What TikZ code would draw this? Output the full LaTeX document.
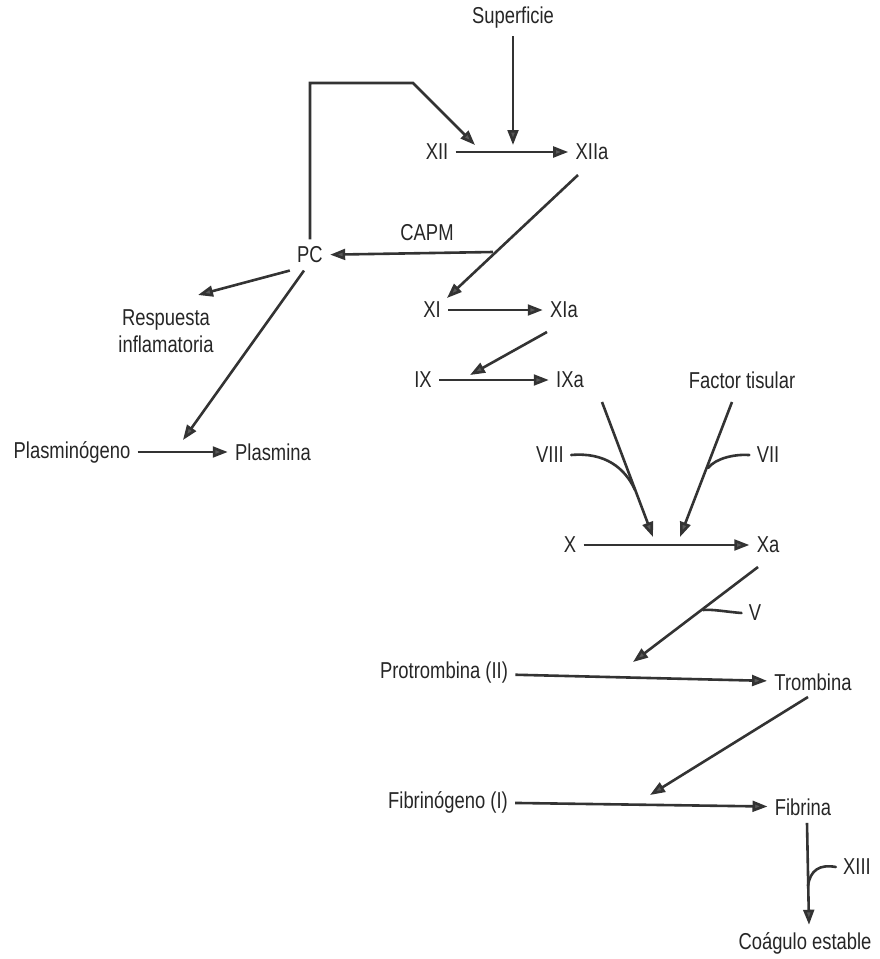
\documentclass[tikz,border=0pt]{standalone}
\usepackage{fontspec}
\setmainfont{Liberation Sans}[FakeStretch=0.8]
\usetikzlibrary{arrows.meta}

\begin{document}
\begin{tikzpicture}[
    x=0.5pt, y=-0.5pt,
    % Define the style for the factor labels
    fLabel/.style={
        font=\fontsize{11.5}{13.5}\selectfont,
        text=black!85,
        inner sep=3.5pt
    },
    % Define the style for the reaction arrows
    edgeStyle/.style={
        draw=black!80,
        line width=1.3pt,
        -{Triangle[length=7.5pt,width=5.4pt,fill=black!65]}
    },
    % Define the style for the cofactor curves (no tip)
    coStyle/.style={
        draw=black!80,
        line width=1.3pt,
        line cap=round
    }
]

    % --- PAGE FRAME ---
    \useasboundingbox (0,0) rectangle (879,959);

    % --- NODES ---
    % Intrinsic pathway
    \node[fLabel] (Sup)  at (513,18)  {Superficie};
    \node[fLabel] (XII)  at (437,152) {XII};
    \node[fLabel] (XIIa) at (592,152) {XIIa};
    \node[fLabel] (PC)   at (310,255) {PC};
    \node[fLabel] (CAPM) at (427,233) {CAPM};
    \node[fLabel] (XI)   at (432,310) {XI};
    \node[fLabel] (XIa)  at (564,310) {XIa};
    \node[fLabel] (IX)   at (423,380) {IX};
    \node[fLabel] (IXa)  at (570,380) {IXa};

    % Kallikrein branch
    \node[fLabel, align=center] (Resp) at (166,331) {Respuesta\\inflamatoria};
    \node[fLabel] (Plg) at (72,452)  {Plasminógeno};
    \node[fLabel] (Pls) at (273,452) {Plasmina};

    % Extrinsic pathway and common pathway
    \node[fLabel] (FT)   at (742,380) {Factor tisular};
    \node[fLabel] (VIII) at (550,455) {VIII};
    \node[fLabel] (VII)  at (768,455) {VII};
    \node[fLabel] (X)    at (570,545) {X};
    \node[fLabel] (Xa)   at (768,545) {Xa};
    \node[fLabel] (V)    at (755,613) {V};
    \node[fLabel] (PT)   at (444,673) {Protrombina (II)};
    \node[fLabel] (Tr)   at (813,682) {Trombina};
    \node[fLabel] (Fg)   at (448,802) {Fibrinógeno (I)};
    \node[fLabel] (Fb)   at (803,807) {Fibrina};
    \node[fLabel] (XIII) at (857,867) {XIII};
    \node[fLabel] (Cg)   at (805,943) {Coágulo estable};

    % --- JUNCTION POINTS ---
    \coordinate (supTip)    at (513,145);
    \coordinate (loopB)     at (413,83);
    \coordinate (loopTip)   at (475,145);
    \coordinate (xiiaOut)   at (578,175);
    \coordinate (xiTip)     at (447,298);
    \coordinate (capmOut)   at (493,252);
    \coordinate (respTip)   at (198,295);
    \coordinate (plsTip)    at (183,440);
    \coordinate (xiaOut)    at (547,332);
    \coordinate (ixTip)     at (470,375);
    \coordinate (ixaOut)    at (602,402);
    \coordinate (xTipA)     at (653,537);
    \coordinate (ftOut)     at (732,402);
    \coordinate (xTipB)     at (680,537);
    \coordinate (viiiJoin)  at (635,490);
    \coordinate (viiJoin)   at (708,468);
    \coordinate (xaOut)     at (758,567);
    \coordinate (ptTip)     at (633,662);
    \coordinate (vJoin)     at (703,610);
    \coordinate (trOut)     at (808,697);
    \coordinate (fgTip)     at (650,795);
    \coordinate (xiiiJoin)  at (808,886);

    % --- EDGES ---
    % Contact activation
    \draw[edgeStyle] (Sup.south) -- (supTip);
    \draw[edgeStyle] (XII) -- (XIIa);
    \draw[edgeStyle] (PC.north) |- (loopB) -- (loopTip);
    \draw[edgeStyle] (xiiaOut) -- (xiTip);
    \draw[edgeStyle] (capmOut) -- (PC);
    \draw[edgeStyle] (XI) -- (XIa);

    % Kallikrein effects
    \draw[edgeStyle] (PC.south west) -- (respTip);
    \draw[edgeStyle] ([xshift=-3pt]PC.south) -- (plsTip);
    \draw[edgeStyle] (Plg) -- (Pls);

    % Factor IX and X activation
    \draw[edgeStyle] (xiaOut) -- (ixTip);
    \draw[edgeStyle] (IX) -- (IXa);
    \draw[edgeStyle] (ixaOut) -- (xTipA);
    \draw[edgeStyle] (ftOut) -- (xTipB);
    \draw[coStyle] (VIII.east) .. controls (605,452) and (625,468) .. (viiiJoin);
    \draw[coStyle] (VII.west) .. controls (735,454) and (716,458) .. (viiJoin);
    \draw[edgeStyle] (X) -- (Xa);

    % Thrombin and fibrin
    \draw[edgeStyle] (xaOut) -- (ptTip);
    \draw[coStyle] (V.west) .. controls (728,612) and (712,609) .. (vJoin);
    \draw[edgeStyle] (PT) -- (Tr);
    \draw[edgeStyle] (trOut) -- (fgTip);
    \draw[edgeStyle] (Fg) -- (Fb);
    \draw[edgeStyle] ([xshift=2pt]Fb.south) -- ([xshift=2pt]Cg.north);
    \draw[coStyle] (XIII.west) .. controls (820,864) and (810,870) .. (xiiiJoin);

\end{tikzpicture}
\end{document}
